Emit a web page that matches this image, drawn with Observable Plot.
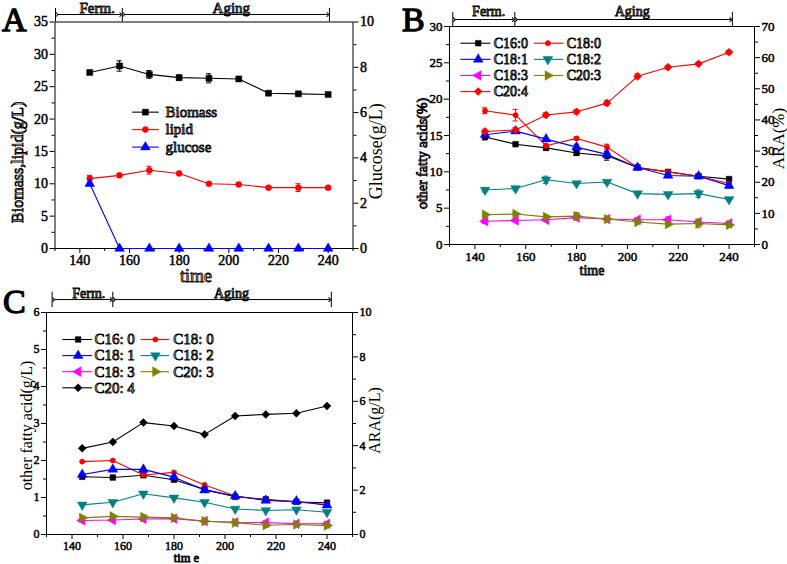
<!DOCTYPE html>
<html><head><meta charset="utf-8">
<script src="https://cdn.jsdelivr.net/npm/d3@7"></script>
<script src="https://cdn.jsdelivr.net/npm/@observablehq/plot@0.6"></script>
<style>
body{margin:0;background:#fff;}
#wrap{position:relative;width:787px;height:564px;overflow:hidden;background:#fff;}
#wrap svg{position:absolute;}
#wrap g[aria-label$="tick label"] text{stroke:#000;stroke-width:0.5px;font-variant:normal;}
.plabel{position:absolute;font-family:"Liberation Serif",serif;font-weight:normal;font-size:34px;line-height:1;color:#000;-webkit-text-stroke:1.3px #000;}
</style></head><body><div id="wrap"></div>
<script>
// ---------- shared data ----------
const times = [144,156,168,180,192,204,216,228,240];
const xDomain = [130, 250];
const xMajor = [140,160,180,200,220,240];
const xMinor = [130,150,170,190,210,230,250];
const stageLabels = ["Ferm.", "Aging"];

// ---------- Panel A ----------
const biomass    = [27.2,28.2,26.9,26.4,26.3,26.2,24.0,23.9,23.8];
const biomassErr = [0.3,0.8,0.6,0.4,0.7,0.2,0.2,0.2,0.2];
const lipid      = [10.8,11.3,12.1,11.6,10.0,9.9,9.4,9.4,9.4];
const lipidErr   = [0.5,0.3,0.6,0.2,0.2,0.2,0.2,0.6,0.2];
const glucose    = [2.86,0,0,0,0,0,0,0,0];

// ---------- Panel B (%) ----------
const bC16_0 = [14.8,13.8,13.3,12.6,12.2,10.6,10.0,9.4,9.0];
const bC18_0 = [18.4,17.8,13.6,14.6,13.4,10.6,10.0,9.4,8.4];
const bC18_1 = [15.1,15.6,14.5,13.4,12.4,10.6,9.5,9.4,8.1];
const bC18_2 = [7.5,7.7,8.9,8.4,8.6,7.0,6.9,7.0,6.2];
const bC18_3 = [3.2,3.3,3.4,3.7,3.5,3.4,3.4,3.1,2.9];
const bC20_3 = [4.1,4.2,3.8,3.9,3.5,3.1,2.8,2.9,2.7];
const bC20_4 = [36.3,36.8,41.6,42.6,45.4,54.0,56.9,58.0,61.7];
const bC16_0Err = [0.4,0.1,0.3,0.35,0.6,0.2,0.2,0.2,0.2];
const bC18_0Err = [0.4,0.8,0.3,0.2,0.4,0.2,0.2,0.2,0.2];
const bC18_1Err = [0.2,0.2,0.2,0.4,0.3,0.2,0.2,0.2,0.3];
const bC18_2Err = [0.3,0.3,0.5,0.2,0.2,0.2,0.2,0.5,0.2];
const bC18_3Err = [0.3,0.2,0.2,0.2,0.2,0.2,0.4,0.2,0.2];
const bC20_3Err = [0.2,0.2,0.2,0.5,0.2,0.2,0.2,0.6,0.2];
const bC20_4Err = [0.7,0.7,0.7,0.7,0.8,0.8,0.6,0.6,0.6];

// ---------- Panel C (g/L) ----------
const cC16_0 = [1.56,1.54,1.60,1.48,1.22,1.02,0.95,0.88,0.86];
const cC18_0 = [1.97,2.00,1.61,1.68,1.34,1.04,0.93,0.88,0.81];
const cC18_1 = [1.62,1.76,1.76,1.55,1.20,1.04,0.92,0.90,0.79];
const cC18_2 = [0.80,0.87,1.10,0.99,0.87,0.69,0.65,0.67,0.60];
const cC18_3 = [0.38,0.39,0.42,0.43,0.36,0.33,0.32,0.29,0.29];
const cC20_3 = [0.45,0.49,0.47,0.45,0.36,0.32,0.25,0.27,0.24];
const cC20_4 = [3.88,4.17,5.04,4.89,4.51,5.34,5.41,5.46,5.79];
const cC20_3Err = [0,0,0,0,0,0,0.05,0,0];

const FONT = '"Liberation Serif","Times New Roman",serif';
const BOLD = {stroke: "#000", strokeWidth: 0.9};   // faux-bold halo for serif text

function rowsOf(vals, errs) {
  return times.map((t, i) => ({t, v: vals[i], e: errs ? errs[i] : 0}));
}

function seriesMarks(s) {
  const data = rowsOf(s.values, s.errors);
  const withErr = data.filter(d => d.e > 0);
  return [
    Plot.line(data, {x: "t", y: "v", stroke: s.color, strokeWidth: 1.1}),
    Plot.ruleX(withErr, {x: "t", y1: d => d.v - d.e, y2: d => d.v + d.e, stroke: s.color, strokeWidth: 1}),
    Plot.ruleY(withErr, {y: d => d.v + d.e, x1: d => d.t - 1, x2: d => d.t + 1, stroke: s.color, strokeWidth: 1}),
    Plot.ruleY(withErr, {y: d => d.v - d.e, x1: d => d.t - 1, x2: d => d.t + 1, stroke: s.color, strokeWidth: 1}),
    Plot.dot(data, {x: "t", y: "v", symbol: s.symbol, r: s.r, fill: s.color, stroke: s.color, strokeWidth: 0.5, rotate: s.rotate || 0})
  ];
}

function legendMarks(items, L) {
  const marks = [];
  const nc = L.cols.length;
  items.forEach((s, i) => {
    const col = L.cols[i % nc];
    const y = L.y0 - Math.floor(i / nc) * L.dy;
    marks.push(Plot.link([0], {x1: () => col.x1, x2: () => col.x2, y1: () => y, y2: () => y, stroke: s.color, strokeWidth: 1.1}));
    marks.push(Plot.dot([0], {x: () => col.xm, y: () => y, symbol: s.symbol, r: s.r, fill: s.color, stroke: s.color, strokeWidth: 0.5, rotate: s.rotate || 0}));
    marks.push(Plot.text([s.label], {x: () => col.xt, y: () => y, text: d => d, textAnchor: "start", fontSize: L.fs, ...BOLD}));
  });
  return marks;
}

function bracketMarks(B) {
  return [
    Plot.ruleX(B.ticks, {x: d => d, y1: B.yLo, y2: B.yHi, stroke: "#000", strokeWidth: 1}),
    Plot.link(B.arrows, {x1: d => d[0], x2: d => d[1], y1: B.yArrow, y2: B.yArrow, stroke: "#000", strokeWidth: 1,
      markerStart: "arrow", markerEnd: "arrow"}),
    Plot.text(stageLabels, {x: (d, i) => B.textX[i], y: B.yText, text: d => d, lineAnchor: "bottom", fontSize: B.fs, ...BOLD})
  ];
}

const fmt = d => String(d);

function axisMarks(anchor, major, minor, fs) {
  return [
    Plot.axisY({ticks: major, anchor, tickSize: 5, tickPadding: 2, label: null, tickFormat: fmt, fontSize: fs}),
    Plot.axisY({ticks: minor, anchor, tickSize: 3, tickFormat: () => "", label: null})
  ];
}

function xAxisMarks(fs) {
  return [
    Plot.axisX({ticks: xMajor, tickSize: 5, tickPadding: 2, label: null, tickFormat: fmt, fontSize: fs}),
    Plot.axisX({ticks: xMinor, tickSize: 3, tickFormat: () => "", label: null})
  ];
}

function titleMarks(T) {
  return T.map(t => Plot.text([t.text], {frameAnchor: t.anchor, text: d => d, rotate: t.rotate || 0, dx: t.dx, dy: t.dy,
    textAnchor: "middle", fontSize: t.fs, lineAnchor: t.lineAnchor || "middle", ...(t.plain ? {} : BOLD)}));
}

function makePlot(g, yDomain, marks, showX) {
  const svg = Plot.plot({
    width: g.width, height: g.height,
    marginLeft: g.ml, marginRight: g.mr, marginTop: g.mt, marginBottom: g.mb,
    x: {domain: xDomain, ...(showX ? {} : {axis: null})},
    y: {domain: yDomain},
    style: {fontFamily: FONT, fontWeight: "normal", fontSize: "12px", color: "#000", background: "transparent", overflow: "visible"},
    marks
  });
  svg.style.left = g.left + "px";
  svg.style.top = g.top + "px";
  return svg;
}

function panel(P) {
  const wrap = document.getElementById("wrap");
  const leftMarks = [
    Plot.frame({stroke: "#000", strokeWidth: 1}),
    ...xAxisMarks(P.tickFs),
    ...axisMarks("left", P.left.major, P.left.minor, P.tickFs),
    ...bracketMarks(P.bracket),
    ...titleMarks(P.titles),
    ...P.left.series.flatMap(seriesMarks),
    ...legendMarks(P.legendItems, P.legend)
  ];
  wrap.appendChild(makePlot(P.g, P.left.domain, leftMarks, true));
  const rightMarks = [
    ...axisMarks("right", P.right.major, P.right.minor, P.tickFs),
    ...P.right.series.flatMap(seriesMarks)
  ];
  wrap.appendChild(makePlot(P.g, P.right.domain, rightMarks, false));
  const lab = document.createElement("div");
  lab.className = "plabel";
  lab.textContent = P.label;
  lab.style.left = P.labelPos[0] + "px";
  lab.style.top = P.labelPos[1] + "px";
  wrap.appendChild(lab);
}

// ---------- series styling ----------
const sBiomass = {label: "Biomass", values: biomass, errors: biomassErr, color: "#000000", symbol: "square", r: 3.4};
const sLipid   = {label: "lipid", values: lipid, errors: lipidErr, color: "#ff0000", symbol: "circle", r: 3};
const sGlucose = {label: "glucose", values: glucose, color: "#0000ff", symbol: "triangle", r: 3.6};

function fattySeries(vals, errs, sep, c204color) {
  const lab = n => sep ? n.replace(":", ": ") : n;
  return [
    {label: lab("C16:0"), values: vals[0], errors: errs[0], color: "#000000", symbol: "square", r: 3.2},
    {label: lab("C18:0"), values: vals[1], errors: errs[1], color: "#ff0000", symbol: "circle", r: 2.6},
    {label: lab("C18:1"), values: vals[2], errors: errs[2], color: "#0000ff", symbol: "triangle", r: 3.6},
    {label: lab("C18:2"), values: vals[3], errors: errs[3], color: "#008080", symbol: "triangle", r: 3.6, rotate: 180},
    {label: lab("C18:3"), values: vals[4], errors: errs[4], color: "#ff00ff", symbol: "triangle", r: 3.6, rotate: -90},
    {label: lab("C20:3"), values: vals[5], errors: errs[5], color: "#808000", symbol: "triangle", r: 3.6, rotate: 90},
    {label: lab("C20:4"), values: vals[6], errors: errs[6], color: c204color, symbol: "diamond2", r: 3.6}
  ];
}

const bSeries = fattySeries([bC16_0,bC18_0,bC18_1,bC18_2,bC18_3,bC20_3,bC20_4],
  [bC16_0Err,bC18_0Err,bC18_1Err,bC18_2Err,bC18_3Err,bC20_3Err,bC20_4Err], false, "#ff0000");
const cSeries = fattySeries([cC16_0,cC18_0,cC18_1,cC18_2,cC18_3,cC20_3,cC20_4],
  [null,null,null,null,null,cC20_3Err,null], true, "#000000");

// ---------- Panel A ----------
panel({
  label: "A", labelPos: [2, 3],
  g: {left: 0, top: 0, width: 400, height: 280, ml: 54.5, mr: 47.5, mt: 21.5, mb: 32},
  tickFs: 14,
  left: {domain: [0, 35], major: [0,5,10,15,20,25,30,35], minor: [2.5,7.5,12.5,17.5,22.5,27.5,32.5], series: [sBiomass, sLipid]},
  right: {domain: [0, 10], major: [0,2,4,6,8,10], minor: [1,3,5,7,9], series: [sGlucose]},
  bracket: {ticks: [130.2, 157.1, 240.5], yLo: 35, yHi: 37.1, arrows: [[130.8, 156.5], [157.7, 239.9]], yArrow: 36.16,
    textX: [147, 201], yText: 36.45, fs: 15},
  titles: [
    {text: "Biomass,lipid(g/L)", anchor: "left", rotate: -90, dx: -37, dy: 27, fs: 16},
    {text: "Glucose(g/L)", anchor: "right", rotate: -90, dx: 23, dy: 16, fs: 18, plain: true},
    {text: "time", anchor: "bottom", dx: -8, dy: 33, fs: 18, lineAnchor: "bottom"}
  ],
  legendItems: [sBiomass, sLipid, sGlucose],
  legend: {cols: [{x1: 161.1, xm: 166.4, x2: 171.8, xt: 174.5}], y0: 21.07, dy: 2.7, fs: 15}
});

// ---------- Panel B ----------
panel({
  label: "B", labelPos: [402, 3],
  g: {left: 400, top: 0, width: 387, height: 280, ml: 49, mr: 33, mt: 26, mb: 36},
  tickFs: 13,
  left: {domain: [0, 30], major: [0,5,10,15,20,25,30], minor: [2.5,7.5,12.5,17.5,22.5,27.5], series: bSeries.slice(0, 6)},
  right: {domain: [0, 70], major: [0,10,20,30,40,50,60,70], minor: [5,15,25,35,45,55,65], series: [bSeries[6]]},
  bracket: {ticks: [131.3, 155.7, 241.3], yLo: 30, yHi: 31.93, arrows: [[131.9, 155.1], [156.3, 240.7]], yArrow: 30.96,
    textX: [145.4, 201.9], yText: 31.5, fs: 14},
  titles: [
    {text: "other fatty acids(%)", anchor: "left", rotate: -90, dx: -27, dy: 18, fs: 14},
    {text: "ARA(%)", anchor: "right", rotate: -90, dx: 24, dy: 3, fs: 17, plain: true},
    {text: "time", anchor: "bottom", dx: -10, dy: 30, fs: 14, lineAnchor: "bottom"}
  ],
  legendItems: bSeries,
  legend: {cols: [{x1: 134.3, xm: 141.3, x2: 146.1, xt: 147.4}, {x1: 163.2, xm: 168.7, x2: 174.8, xt: 176.1}], y0: 27.7, dy: 2.22, fs: 14}
});

// ---------- Panel C ----------
panel({
  label: "C", labelPos: [3, 285],
  g: {left: 0, top: 280, width: 400, height: 284, ml: 46, mr: 48, mt: 32, mb: 30},
  tickFs: 12,
  left: {domain: [0, 6], major: [0,1,2,3,4,5,6], minor: [0.5,1.5,2.5,3.5,4.5,5.5], series: cSeries.slice(0, 6)},
  right: {domain: [0, 10], major: [0,2,4,6,8,10], minor: [1,3,5,7,9], series: [cSeries[6]]},
  bracket: {ticks: [132.2, 156, 241.7], yLo: 6.135, yHi: 6.55, arrows: [[132.8, 155.4], [156.6, 241.1]], yArrow: 6.35,
    textX: [146.6, 202.5], yText: 6.405, fs: 14},
  titles: [
    {text: "other fatty acid(g/L)", anchor: "left", rotate: -90, dx: -20, dy: 2, fs: 16, plain: true},
    {text: "ARA(g/L)", anchor: "right", rotate: -90, dx: 22, dy: -3, fs: 16, plain: true},
    {text: "tim e", anchor: "bottom", dx: -13, dy: 27, fs: 12.5, lineAnchor: "bottom"}
  ],
  legendItems: cSeries,
  legend: {cols: [{x1: 136.2, xm: 142.4, x2: 147.9, xt: 148.8}, {x1: 166.9, xm: 172.7, x2: 178, xt: 179.7}], y0: 5.27, dy: 0.435, fs: 15}
});
</script>
</body></html>
